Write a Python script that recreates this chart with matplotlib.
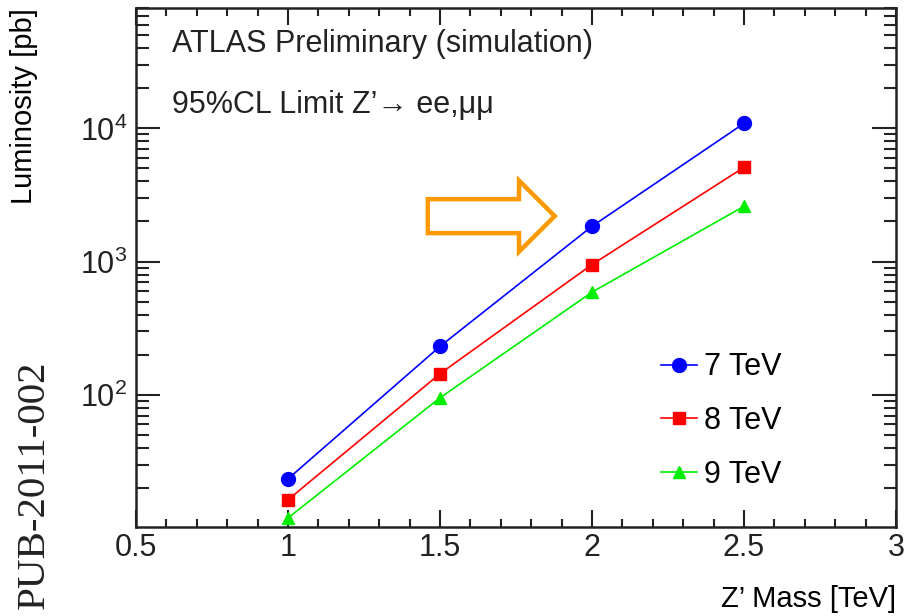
import matplotlib
matplotlib.use("Agg")
import matplotlib.pyplot as plt
import matplotlib.patches as mpatches
from matplotlib.ticker import MultipleLocator, LogLocator, NullFormatter

plt.rcParams['font.family'] = ['Liberation Sans', 'DejaVu Sans']
plt.rcParams['mathtext.default'] = 'regular'

# Z' mass points [TeV] and the luminosity needed for a 95% CL limit [pb]
mass = [1.0, 1.5, 2.0, 2.5]
lumi_7tev = [23.4, 231, 1840, 10900]
lumi_8tev = [16.3, 144, 950, 5100]
lumi_9tev = [11.9, 95, 590, 2600]
labels = ["7 TeV", "8 TeV", "9 TeV"]

fig = plt.figure(figsize=(9.06, 6.16), dpi=100)
ax = fig.add_axes([0.150, 0.1445, 0.839, 0.8425])

ax.plot(mass, lumi_7tev, '-o', color='#0000ff', lw=1.2, ms=10, label=labels[0])
ax.plot(mass, lumi_8tev, '-s', color='#ff0000', lw=1.2, ms=9, label=labels[1])
ax.plot(mass, lumi_9tev, '-^', color='#00ee00', lw=1.2, ms=9, label=labels[2])

ax.set_yscale('log')
ax.set_xlim(0.5, 3.0)
ax.set_ylim(10.2, 8e4)

ax.xaxis.set_major_locator(MultipleLocator(0.5))
ax.xaxis.set_minor_locator(MultipleLocator(0.1))
ax.xaxis.set_major_formatter(plt.FuncFormatter(lambda v, p: f"{v:g}"))
ax.yaxis.set_major_locator(LogLocator(base=10, numticks=10))
ax.yaxis.set_minor_locator(LogLocator(base=10, subs=range(2, 10), numticks=20))
ax.yaxis.set_minor_formatter(NullFormatter())

ax.tick_params(axis='both', which='both', direction='in', top=True, right=True,
               labelsize=22, width=1.5, colors='#222222')
ax.tick_params(axis='x', which='major', length=12, pad=4)
ax.tick_params(axis='x', which='minor', length=6)
ax.tick_params(axis='y', which='major', length=17, pad=6)
ax.tick_params(axis='y', which='minor', length=9)
for s in ax.spines.values():
    s.set_linewidth(1.8)
    s.set_color('#222222')

ax.set_ylabel("Luminosity [pb]", fontsize=21, loc='top', labelpad=30)
ax.set_xlabel("Z’ Mass [TeV]", fontsize=21, loc='right', labelpad=16)

ax.text(0.047, 0.93, "ATLAS Preliminary (simulation)", transform=ax.transAxes,
        fontsize=22, va='center', ha='left', color='#222222')
ax.text(0.047, 0.813, "95%CL Limit Z’→ ee,μμ", transform=ax.transAxes,
        fontsize=22, va='center', ha='left', color='#222222')

ax.legend(loc='upper left', bbox_to_anchor=(0.730, 0.428), bbox_transform=fig.transFigure,
          frameon=False, fontsize=22, handlelength=1.15, handletextpad=0.25,
          labelspacing=0.78, borderpad=0, borderaxespad=0)

# orange outline arrow pointing at the curves
arrow = mpatches.FancyArrow(0.384, 0.599, 0.167, 0.0, width=0.0655, head_width=0.137,
                            head_length=0.047, length_includes_head=True,
                            transform=ax.transAxes, facecolor='none',
                            edgecolor='#ff9900', lw=3.2, joinstyle='miter')
ax.add_patch(arrow)

fig.text(0.0375, 0.415, "PUB-2011-002", rotation=90, va='top', ha='center',
         fontsize=29.5, family='Liberation Serif', color='#222222')

fig.savefig("out.png", dpi=100)
